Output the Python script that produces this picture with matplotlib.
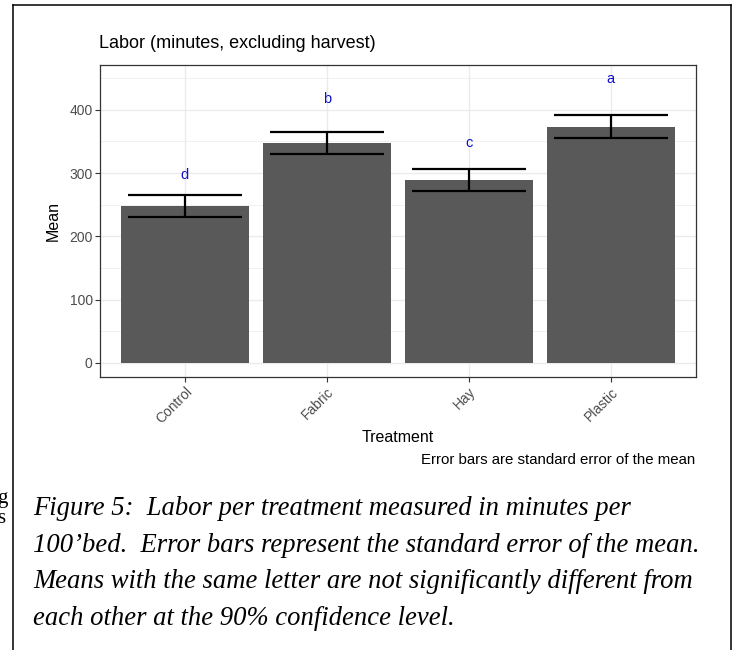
'''
Labor per treatment bar chart (ggplot theme_bw look)
'''
import numpy as np
import matplotlib
matplotlib.use('Agg')
import matplotlib.pyplot as plt
from matplotlib.lines import Line2D

    ## 0 Data
treatments = ['Control', 'Fabric', 'Hay', 'Plastic']
means = [247.4, 347.1, 289.0, 373.4]
se = [17.6, 17.4, 17.7, 17.8]
letters = ['d', 'b', 'c', 'a']
letter_y = [296.9, 416.5, 346.8, 448.1]

W, H = 737, 650
fx = lambda x: x / W
fy = lambda y: 1 - y / H

fig = plt.figure(figsize=(W / 100, H / 100), dpi=100)

# page frame around the figure
for xs, ys in [([12.5, 12.5], [5, 650]), ([12.5, 731], [5, 5]), ([731, 731], [5, 650])]:
    fig.add_artist(Line2D([fx(v) for v in xs], [fy(v) for v in ys],
                          color='black', lw=1.1))

# panel
px0, px1, py0, py1 = 99.8, 696, 65.3, 377
ax = fig.add_axes([fx(px0), fy(py1), fx(px1) - fx(px0), (py1 - py0) / H])

x = np.arange(len(treatments))
m = np.array(means)
s = np.array(se)

ax.bar(x, m, width=0.9, color='#595959', zorder=2)

# error bars
ax.hlines(m + s, x - 0.4, x + 0.4, color='black', lw=1.6, zorder=3)
ax.hlines(m - s, x - 0.4, x + 0.4, color='black', lw=1.6, zorder=3)
ax.vlines(x, m - s, m + s, color='black', lw=1.6, zorder=3)

# significance letters
for xi, yi, lab in zip(x, letter_y, letters):
    ax.text(xi, yi, lab, color='#1010CC', ha='center', va='center',
            fontsize=10.5, family='Liberation Sans')

ax.set_xlim(-0.6, 3.6)
ax.set_ylim(-22.4, 470.4)
ax.set_yticks([0, 100, 200, 300, 400])
ax.set_yticks([50, 150, 250, 350, 450], minor=True)
ax.set_xticks(x)
ax.set_xticklabels(treatments, rotation=45, ha='right', va='top',
                   rotation_mode='anchor')
ax.tick_params(which='major', length=3.6, width=0.8, color='#333333',
               labelcolor='#4D4D4D', labelsize=10, pad=1.5)
ax.tick_params(which='minor', length=0)
ax.tick_params(axis='x', pad=2)
for lab in ax.get_xticklabels() + ax.get_yticklabels():
    lab.set_family('Liberation Sans')

ax.grid(which='major', color='#EBEBEB', lw=1.0, zorder=0)
ax.grid(which='minor', axis='y', color='#EBEBEB', lw=0.5, zorder=0)
ax.set_axisbelow(True)
for sp in ax.spines.values():
    sp.set_color('#333333')
    sp.set_linewidth(0.9)

# axis titles
fig.text(fx(53), fy(221), 'Mean', rotation=90, ha='center', va='center',
         fontsize=11.5, family='Liberation Sans')
fig.text(fx(398), fy(438), 'Treatment', ha='center', va='center',
         fontsize=11.5, family='Liberation Sans')
fig.text(fx(99), fy(44), 'Labor (minutes, excluding harvest)', ha='left',
         va='center', fontsize=13, family='Liberation Sans')
fig.text(fx(695), fy(460), 'Error bars are standard error of the mean',
         ha='right', va='center', fontsize=10.8, family='Liberation Sans')

# document caption below the chart
caption = [
    'Figure 5:  Labor per treatment measured in minutes per',
    '100\u2019bed.  Error bars represent the standard error of the mean.',
    'Means with the same letter are not significantly different from',
    'each other at the 90% confidence level.',
]
for i, line in enumerate(caption):
    fig.text(fx(33), fy(515 + i * 36.7), line, ha='left', va='baseline',
             fontsize=19.2, style='italic', family='Liberation Serif')

# clipped glyphs from the neighbouring column
fig.text(fx(-3), fy(503), 'g', fontsize=15, family='Liberation Serif',
         va='baseline')
fig.text(fx(-3), fy(523), 's', fontsize=15, family='Liberation Serif',
         va='baseline')

plt.savefig('out.png', dpi=100)
